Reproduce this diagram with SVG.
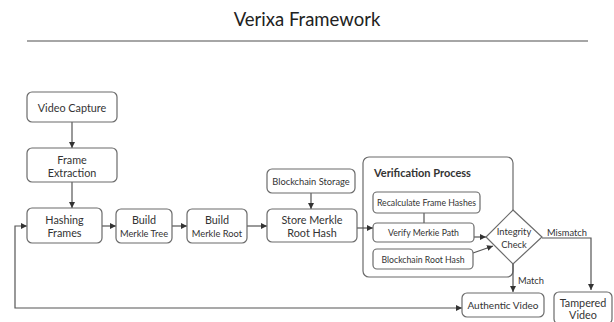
<svg xmlns="http://www.w3.org/2000/svg" width="614" height="322" viewBox="0 0 614 322">
<style>
.bx{fill:#fff;stroke:#6b6b6b;stroke-width:1.2}
.t{font-family:Lato,"Open Sans",sans-serif;font-size:10.8px;fill:#333;text-anchor:middle;dominant-baseline:central}
.s{font-size:9.3px}
.xs{font-size:8.7px}
.ln{fill:none;stroke:#555;stroke-width:1.2}
</style>
<defs>
<marker id="ar" viewBox="0 0 10 10" refX="10" refY="5" markerWidth="6" markerHeight="6" orient="auto-start-reverse" markerUnits="userSpaceOnUse">
<path d="M0,0 L10,5 L0,10 z" fill="#333"/>
</marker>
</defs>
<rect width="614" height="322" fill="#fff"/>
<g id="title">
<text x="307" y="19" class="t" style="font-size:18.5px;fill:#222">Verixa Framework</text>
<line x1="27" y1="41" x2="588" y2="41" stroke="#888" stroke-width="1.5"/>
</g>
<g id="verification">
<rect class="bx" x="363" y="157" width="150" height="120" rx="6"/>
<text x="374" y="172" class="t" style="text-anchor:start;font-size:11px;font-weight:700">Verification Process</text>
</g>
<g id="connectors">
<path class="ln" d="M72,122 V148" marker-end="url(#ar)"/>
<path class="ln" d="M72,182 V208" marker-end="url(#ar)"/>
<path class="ln" d="M102,226 H116" marker-end="url(#ar)"/>
<path class="ln" d="M172,226 H187" marker-end="url(#ar)"/>
<path class="ln" d="M247,226 H267" marker-end="url(#ar)"/>
<path class="ln" d="M311,193 V209" marker-end="url(#ar)"/>
<path class="ln" d="M357,228 H373" marker-end="url(#ar)"/>
<path class="ln" d="M424,213 V223"/>
<path class="ln" d="M474,237 H486" marker-end="url(#ar)"/>
<path class="ln" d="M473,253 L493,246" marker-end="url(#ar)"/>
<path class="ln" d="M542,238 H591 V290" marker-end="url(#ar)"/>
<path class="ln" d="M513,264 V292" marker-end="url(#ar)"/>
<path class="ln" d="M27,226 H15 V308 H462" marker-start="url(#ar)" marker-end="url(#ar)"/>
<text x="547" y="232" class="t s" style="text-anchor:start">Mismatch</text>
<text x="518" y="280" class="t s" style="text-anchor:start">Match</text>
</g>
<g id="video-capture">
<rect class="bx" x="27" y="92" width="90" height="30" rx="5"/>
<text x="72" y="107" class="t">Video Capture</text>
</g>
<g id="frame-extraction">
<rect class="bx" x="27" y="148" width="90" height="34" rx="5"/>
<text x="72" y="159" class="t">Frame</text>
<text x="72" y="172" class="t">Extraction</text>
</g>
<g id="hashing-frames">
<rect class="bx" x="27" y="208" width="75" height="35" rx="5"/>
<text x="64.5" y="219" class="t">Hashing</text>
<text x="64.5" y="232" class="t">Frames</text>
</g>
<g id="build-merkle-tree">
<rect class="bx" x="116" y="209" width="56" height="34" rx="5"/>
<text x="144" y="219" class="t">Build</text>
<text x="144" y="233" class="t s">Merkle Tree</text>
</g>
<g id="build-merkle-root">
<rect class="bx" x="187" y="209" width="60" height="34" rx="5"/>
<text x="217" y="219" class="t">Build</text>
<text x="217" y="233" class="t s">Merkle Root</text>
</g>
<g id="blockchain-storage">
<rect class="bx" x="267" y="169" width="88" height="24" rx="5"/>
<text x="311" y="181" class="t s">Blockchain Storage</text>
</g>
<g id="store-merkle-root-hash">
<rect class="bx" x="267" y="209" width="90" height="33" rx="5"/>
<text x="312" y="219" class="t">Store Merkle</text>
<text x="312" y="232" class="t">Root Hash</text>
</g>
<g id="recalculate">
<rect class="bx" x="373" y="192" width="107" height="21" rx="4"/>
<text x="426.5" y="202.5" class="t xs">Recalculate Frame Hashes</text>
</g>
<g id="verify-path">
<rect class="bx" x="373" y="223" width="101" height="19" rx="4"/>
<text x="423.5" y="232.5" class="t xs">Verify Merkie Path</text>
</g>
<g id="blockchain-root-hash">
<rect class="bx" x="373" y="249" width="100" height="20" rx="4"/>
<text x="423" y="259" class="t xs">Blockchain Root Hash</text>
</g>
<g id="integrity-check">
<path class="bx" d="M513,210 L542,237 L513,264 L486,237 Z"/>
<text x="514" y="231" class="t s">Integrity</text>
<text x="514" y="244" class="t s">Check</text>
</g>
<g id="authentic-video">
<rect class="bx" x="462" y="293" width="82" height="24" rx="5"/>
<text x="503" y="305" class="t" style="font-size:10px">Authentic Video</text>
</g>
<g id="tampered-video">
<rect class="bx" x="554" y="292" width="58" height="32" rx="5"/>
<text x="583" y="302" class="t">Tampered</text>
<text x="583" y="314" class="t">Video</text>
</g>
</svg>
